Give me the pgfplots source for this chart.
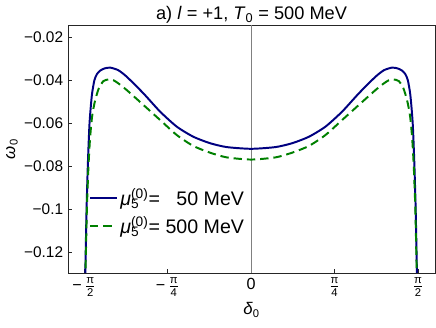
\documentclass[border=0pt]{standalone}
\usepackage{amsmath}
\usepackage{fontspec}
\setmainfont{Liberation Sans}
\usepackage{pgfplots}
\pgfplotsset{compat=1.18}

\definecolor{navyline}{RGB}{0,0,128}
\definecolor{greenline}{RGB}{0,128,0}

\newcommand{\mufive}{\textit{μ}\rlap{\textsubscript{5}}\textsuperscript{(0)}}
\newcommand{\pifrac}[1]{\ensuremath{\frac{\text{π}}{\text{#1}}}}

\begin{document}
\begin{tikzpicture}[font=\fontsize{11}{13}\selectfont]
\begin{axis}[
    scale only axis,
    width=262pt, height=177pt,
    xmin=-1.722, xmax=1.730,
    ymin=-0.1298, ymax=-0.0144,
    axis line style={black!85},
    tick pos=left,
    tick style={black!85},
    major tick length=3pt,
    xtick={-1.5708,-0.7854,0,0.7854,1.5708},
    xticklabels={$\text{−}\,\pifrac{2}$, $\text{−}\,\pifrac{4}$, 0, \pifrac{4}, \pifrac{2}},
    xticklabel style={font=\fontsize{11.5}{13}\selectfont},
    ytick={-0.12,-0.1,-0.08,-0.06,-0.04,-0.02},
    yticklabels={−0.12,−0.1,−0.08,−0.06,−0.04,−0.02},
    title={a) \textit{l} = +1, \textit{T}\textsubscript{0} = 500 MeV},
    every axis title/.style={at={(axis description cs:0.5,1.0)}, anchor=base,
        yshift=4pt, inner sep=0pt, font=\fontsize{13}{15}\selectfont},
    xlabel={\textit{δ}\textsubscript{0}},
    xlabel style={at={(axis description cs:0.5,-0.149)}, anchor=center,
        font=\fontsize{12}{14}\selectfont},
    ylabel={\textit{ω}\textsubscript{0}},
    ylabel style={at={(axis description cs:-0.153,0.5)}, anchor=center,
        font=\fontsize{12}{14}\selectfont},
    legend style={at={(0.045,0.245)}, anchor=west, draw=none, fill=none,
        row sep=2pt, font=\fontsize{14}{16}\selectfont},
    legend cell align=left,
    legend image code/.code={\draw[#1] (0pt,0pt) -- (19pt,0pt);},
    clip=true,
]
\coordinate (sw) at (rel axis cs:0,0);
\coordinate (ne) at (rel axis cs:1,1);
\draw[gray, line width=0.6pt] (axis cs:0,-0.1298) -- (axis cs:0,-0.0144);

\addplot[navyline, line width=1.4pt, smooth, tension=0.4] coordinates {
(-1.564,-0.140) (-1.558,-0.125) (-1.548,-0.100) (-1.535,-0.078) (-1.520,-0.060)
(-1.498,-0.047) (-1.474,-0.0400) (-1.450,-0.0372) (-1.420,-0.0356) (-1.380,-0.0346)
(-1.326,-0.0342) (-1.250,-0.0354) (-1.169,-0.0385) (-1.013,-0.0462) (-0.856,-0.0547)
(-0.699,-0.0617) (-0.543,-0.0664) (-0.386,-0.0694) (-0.229,-0.0712) (0,-0.0720)
(0.229,-0.0712) (0.386,-0.0694) (0.543,-0.0664) (0.699,-0.0617) (0.856,-0.0547)
(1.013,-0.0462) (1.169,-0.0385) (1.250,-0.0354) (1.326,-0.0342) (1.380,-0.0346)
(1.420,-0.0356) (1.450,-0.0372) (1.474,-0.0400) (1.498,-0.047) (1.520,-0.060)
(1.535,-0.078) (1.548,-0.100) (1.558,-0.125) (1.564,-0.140)
};
\addlegendentry{\mufive= \hphantom{0}50 MeV}

\addplot[greenline, line width=1.4pt, dash pattern=on 6pt off 3.5pt, smooth, tension=0.4] coordinates {
(-1.563,-0.140) (-1.556,-0.125) (-1.545,-0.100) (-1.530,-0.080) (-1.515,-0.067)
(-1.496,-0.057) (-1.470,-0.0500) (-1.434,-0.0440) (-1.390,-0.0405) (-1.340,-0.0397)
(-1.295,-0.0401) (-1.250,-0.0415) (-1.169,-0.0447) (-1.013,-0.0516) (-0.856,-0.0586)
(-0.699,-0.0656) (-0.543,-0.0707) (-0.386,-0.0738) (-0.229,-0.0760) (0,-0.0770)
(0.229,-0.0760) (0.386,-0.0738) (0.543,-0.0707) (0.699,-0.0656) (0.856,-0.0586)
(1.013,-0.0516) (1.169,-0.0447) (1.250,-0.0415) (1.295,-0.0401) (1.340,-0.0397)
(1.390,-0.0405) (1.434,-0.0440) (1.470,-0.0500) (1.496,-0.057) (1.515,-0.067)
(1.530,-0.080) (1.545,-0.100) (1.556,-0.125) (1.563,-0.140)
};
\addlegendentry{\mufive= 500 MeV}
\end{axis}
\pgfresetboundingbox
\path (sw) ++(-48.6pt,-38.6pt) rectangle ([shift={(0.7pt,17.9pt)}]ne);
\end{tikzpicture}
\end{document}
